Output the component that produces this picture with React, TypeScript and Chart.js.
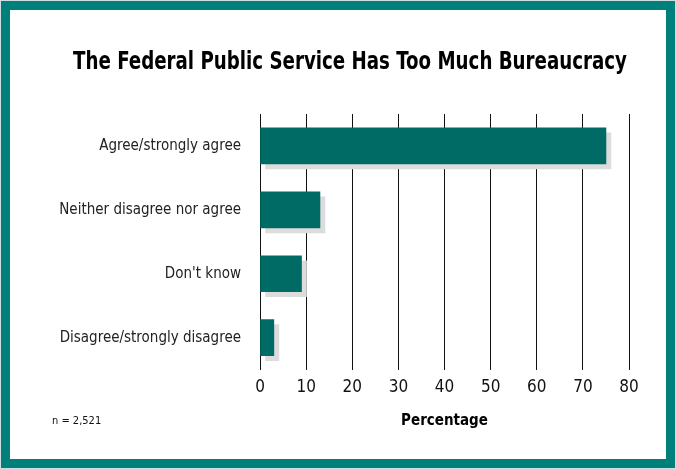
import React, { useEffect, useRef } from "react";
import { Chart, registerables } from "chart.js";

Chart.register(...registerables);

const categories = [
  "Agree/strongly agree",
  "Neither disagree nor agree",
  "Don't know",
  "Disagree/strongly disagree",
];
const percentages = [75, 13, 9, 3];
const xTicks = [0, 10, 20, 30, 40, 50, 60, 70, 80];
const titleText = "The Federal Public Service Has Too Much Bureaucracy";
const xTitle = "Percentage";
const noteText = "n = 2,521";

const NARROW = "'Liberation Sans Narrow', 'DejaVu Sans Condensed', 'Arial Narrow', sans-serif";
const BAR = "#006b64";
const FRAME = "#00807a";

const shadowPlugin = {
  id: "barShadow",
  beforeDatasetDraw(chart: any) {
    const ctx = chart.ctx;
    ctx.save();
    ctx.shadowColor = "#dcdcdc";
    ctx.shadowOffsetX = 5;
    ctx.shadowOffsetY = 5;
    ctx.shadowBlur = 0;
  },
  afterDatasetDraw(chart: any) {
    chart.ctx.restore();
  },
};

const textPlugin = {
  id: "texts",
  afterDraw(chart: any) {
    const ctx = chart.ctx;
    ctx.save();
    ctx.fillStyle = "#000";
    ctx.textAlign = "center";
    ctx.textBaseline = "middle";
    ctx.font = `bold 25px ${NARROW}`;
    ctx.fillText(titleText, 340, 52, 554);
    ctx.font = `11px ${NARROW}`;
    ctx.fillStyle = "#111";
    ctx.textAlign = "left";
    ctx.fillText(noteText, 42, 411);
    ctx.restore();
  },
};

export default function App() {
  const ref = useRef<HTMLCanvasElement | null>(null);
  useEffect(() => {
    if (!ref.current) return;
    const chart = new Chart(ref.current, {
      type: "bar",
      data: {
        labels: categories,
        datasets: [
          {
            data: percentages,
            backgroundColor: BAR,
            barThickness: 36,
            borderWidth: 0,
          },
        ],
      },
      options: {
        indexAxis: "y",
        animation: false,
        responsive: false,
        maintainAspectRatio: false,
        layout: { padding: { left: 24, right: 0, top: 104, bottom: 23 } },
        plugins: {
          legend: { display: false },
          tooltip: { enabled: false },
          title: { display: false },
        },
        scales: {
          x: {
            type: "linear",
            min: 0,
            max: 80,
            afterBuildTicks: (scale: any) => {
              scale.ticks = xTicks.map((v) => ({ value: v }));
            },
            grid: { color: "#111", lineWidth: 1, drawTicks: false },
            border: { display: false },
            ticks: {
              color: "#111",
              padding: 8,
              font: { family: NARROW, size: 17 },
            },
            title: {
              display: true,
              text: xTitle,
              color: "#000",
              font: { family: NARROW, size: 15, weight: "bold" },
              padding: { top: 6, bottom: 6 },
            },
          },
          y: {
            type: "category",
            grid: { display: false, drawTicks: false },
            border: { display: false },
            afterFit: (scale: any) => {
              scale.width = 226;
            },
            ticks: {
              color: "#222",
              padding: 19,
              font: { family: NARROW, size: 15 },
            },
          },
          yRight: {
            type: "category",
            position: "right",
            grid: { display: false, drawTicks: false },
            border: { display: false },
            ticks: { display: false },
            afterFit: (scale: any) => {
              scale.width = 37;
            },
          },
        },
      },
      plugins: [shadowPlugin, textPlugin],
    });
    return () => chart.destroy();
  }, []);

  return (
    <div
      style={{
        position: "absolute",
        left: 0,
        top: 0,
        width: 676,
        height: 469,
        boxSizing: "border-box",
        background: "#cfdede",
        padding: 1,
      }}
    >
      <div
        style={{
          width: 674,
          height: 467,
          boxSizing: "border-box",
          border: `9px solid ${FRAME}`,
          background: "#fff",
        }}
      >
        <canvas ref={ref} width={656} height={449} style={{ display: "block" }} />
      </div>
    </div>
  );
}
